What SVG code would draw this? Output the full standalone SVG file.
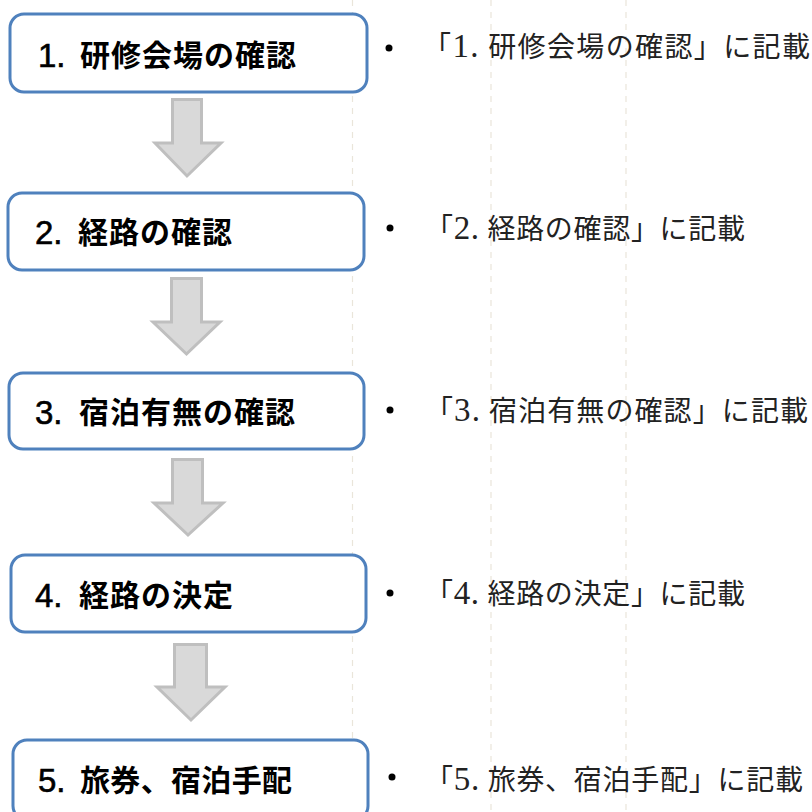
<svg xmlns="http://www.w3.org/2000/svg" width="812" height="812" viewBox="0 0 812 812">
<defs>
<style>
.grid{stroke:#EAE5DA;stroke-width:1.2;stroke-dasharray:6 6;fill:none}
.box{fill:#FFFFFF;stroke:#4F81BD;stroke-width:3}
.lbl{font-family:"Liberation Sans","Noto Sans CJK JP",sans-serif;font-weight:bold;font-size:30px;fill:#000}
.num{font-family:"Liberation Sans","Noto Sans CJK JP",sans-serif;font-size:33px;fill:#000;stroke:#000;stroke-width:0.6}
.note{font-family:"Liberation Serif","Noto Sans CJK JP",serif;font-size:28px;fill:#222}
.nd{font-size:33px}
.bul{fill:#000}
.arr{fill:#D9D9D9;stroke:#BFBFBF;stroke-width:3;stroke-linejoin:miter}
</style>
</defs>
<rect width="812" height="812" fill="#FFFFFF"/>
<g id="gridlines">
<line class="grid" x1="352.5" y1="0" x2="352.5" y2="812"/>
<line class="grid" x1="491" y1="0" x2="491" y2="812"/>
<line class="grid" x1="626" y1="0" x2="626" y2="812"/>
</g>
<g id="connectors">
<polygon class="arr" points="172.5,99.5 201.5,99.5 201.5,143 221,143 187,176 155,143 172.5,143"/>
<polygon class="arr" points="171.5,278.5 201.5,278.5 201.5,322 220,322 186.5,354 153,322 171.5,322"/>
<polygon class="arr" points="172.5,459.5 202.5,459.5 202.5,503 223,503 188,535 154,503 172.5,503"/>
<polygon class="arr" points="174.5,644.5 206.5,644.5 206.5,687 225,687 191,720 157,687 174.5,687"/>
</g>
<g id="node1">
<rect class="box" x="10" y="14" width="357" height="78" rx="14"/>
<text class="num" x="38" y="67">1.</text>
<text class="lbl" x="80" y="66" letter-spacing="1">研修会場の確認</text>
</g>
<g id="node2">
<rect class="box" x="8" y="193" width="356" height="77" rx="14"/>
<text class="num" x="35" y="244">2.</text>
<text class="lbl" x="78" y="243" letter-spacing="1">経路の確認</text>
</g>
<g id="node3">
<rect class="box" x="9" y="373" width="355" height="76" rx="14"/>
<text class="num" x="35" y="424">3.</text>
<text class="lbl" x="79" y="423" letter-spacing="1">宿泊有無の確認</text>
</g>
<g id="node4">
<rect class="box" x="11" y="555" width="355" height="77" rx="14"/>
<text class="num" x="35" y="607">4.</text>
<text class="lbl" x="79" y="606" letter-spacing="1">経路の決定</text>
</g>
<g id="node5">
<rect class="box" x="13" y="740" width="355" height="80" rx="14"/>
<text class="num" x="38" y="792">5.</text>
<text class="lbl" x="80" y="791" textLength="212" lengthAdjust="spacing">旅券、宿泊手配</text>
</g>
<g id="notes">
<circle class="bul" cx="389" cy="48" r="3.5"/>
<text class="note" x="423" y="57" textLength="387" lengthAdjust="spacing">「<tspan class="nd">1.</tspan> 研修会場の確認」に記載</text>
<circle class="bul" cx="390" cy="228" r="3.5"/>
<text class="note" x="425" y="239" textLength="320" lengthAdjust="spacing">「<tspan class="nd">2.</tspan> 経路の確認」に記載</text>
<circle class="bul" cx="390" cy="410" r="3.5"/>
<text class="note" x="425" y="421" textLength="383" lengthAdjust="spacing">「<tspan class="nd">3.</tspan> 宿泊有無の確認」に記載</text>
<circle class="bul" cx="390" cy="593" r="3.5"/>
<text class="note" x="425" y="604" textLength="320" lengthAdjust="spacing">「<tspan class="nd">4.</tspan> 経路の決定」に記載</text>
<circle class="bul" cx="392" cy="777" r="3.5"/>
<text class="note" x="425" y="790" textLength="378" lengthAdjust="spacing">「<tspan class="nd">5.</tspan> 旅券、宿泊手配」に記載</text>
</g>
</svg>
